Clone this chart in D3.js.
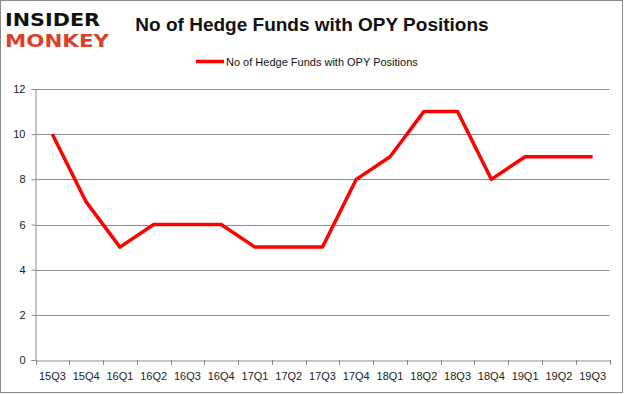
<!DOCTYPE html>
<html><head><meta charset="utf-8">
<script src="https://cdn.jsdelivr.net/npm/d3@7"></script>
<style>body{margin:0;background:#fff}svg{display:block}</style>
</head><body>
<script>
const categories = ["15Q3","15Q4","16Q1","16Q2","16Q3","16Q4","17Q1","17Q2","17Q3","17Q4","18Q1","18Q2","18Q3","18Q4","19Q1","19Q2","19Q3"];
const values = [10,7,5,6,6,6,5,5,5,8,9,11,11,8,9,9,9];
const yTicks = [0,2,4,6,8,10,12];
const seriesName = "No of Hedge Funds with OPY Positions";
const titleText = "No of Hedge Funds with OPY Positions";

const W = 625, H = 394;
const svg = d3.select("body").append("svg").attr("width", W).attr("height", H);
svg.append("rect").attr("x",0.5).attr("y",0.5).attr("width",W-3).attr("height",H-2)
  .attr("fill","#fff").attr("stroke","#888");

const m = {left:35.5, right:609.5, top:89, bottom:360};
const x = d3.scaleBand().domain(categories).range([m.left, m.right]);
const y = d3.scaleLinear().domain([0,12]).range([m.bottom, m.top]);

// gridlines
svg.append("g").selectAll("line").data(yTicks.filter(d=>d>0)).join("line")
  .attr("x1", m.left).attr("x2", m.right)
  .attr("y1", d=>Math.round(y(d))+0.5).attr("y2", d=>Math.round(y(d))+0.5)
  .attr("stroke","#8c8c8c").attr("stroke-width",1);

// y axis
const yAxis = svg.append("g").attr("transform",`translate(${m.left},0)`)
  .call(d3.axisLeft(y).tickValues(yTicks).tickSize(4).tickPadding(6));
yAxis.select(".domain").attr("stroke","#8c8c8c");
yAxis.selectAll(".tick line").attr("stroke","#8c8c8c");
yAxis.selectAll("text").attr("font-family","Liberation Sans, Arial, sans-serif").attr("font-size",11).attr("fill","#222");

// x axis
const xAxis = svg.append("g").attr("transform",`translate(0,${m.bottom+0.5})`)
  .call(d3.axisBottom(x).tickSize(0).tickPadding(12));
xAxis.select(".domain").attr("stroke","#8c8c8c");
xAxis.selectAll("text").attr("font-family","Liberation Sans, Arial, sans-serif").attr("font-size",11).attr("fill","#222");
// x tick marks at band boundaries
const bounds = categories.map(c=>x(c)).concat([x.range()[1]]);
svg.append("g").selectAll("line").data(bounds).join("line")
  .attr("x1", d=>Math.round(d)+0.5).attr("x2", d=>Math.round(d)+0.5)
  .attr("y1", m.bottom).attr("y2", m.bottom+5)
  .attr("stroke","#8c8c8c");

// line
const line = d3.line().x((d,i)=>x(categories[i])+x.bandwidth()/2).y(d=>y(d));
svg.append("path").datum(values).attr("d", line)
  .attr("fill","none").attr("stroke","#ff0000").attr("stroke-width",3.5)
  .attr("stroke-linejoin","round");

// title
svg.append("text").attr("x",312).attr("y",31).attr("text-anchor","middle")
  .attr("font-family","Liberation Sans, Arial, sans-serif").attr("font-weight","bold")
  .attr("font-size",19).attr("fill","#111").text(titleText);

// legend
svg.append("line").attr("x1",196).attr("x2",224).attr("y1",61.5).attr("y2",61.5)
  .attr("stroke","#ff0000").attr("stroke-width",3.5);
svg.append("text").attr("x",226).attr("y",65.5)
  .attr("font-family","Liberation Sans, Arial, sans-serif").attr("font-size",11)
  .attr("fill","#111").text(seriesName);

// logo
svg.append("text").attr("x",5).attr("y",26).attr("textLength",95).attr("lengthAdjust","spacingAndGlyphs")
  .attr("font-family","DejaVu Sans, sans-serif").attr("font-weight","bold").attr("font-size",18)
  .attr("fill","#111").text("INSIDER");
svg.append("text").attr("x",5).attr("y",47).attr("textLength",104).attr("lengthAdjust","spacingAndGlyphs")
  .attr("font-family","DejaVu Sans, sans-serif").attr("font-weight","bold").attr("font-size",18)
  .attr("fill","#d9412b").text("MONKEY");
</script>
</body></html>
